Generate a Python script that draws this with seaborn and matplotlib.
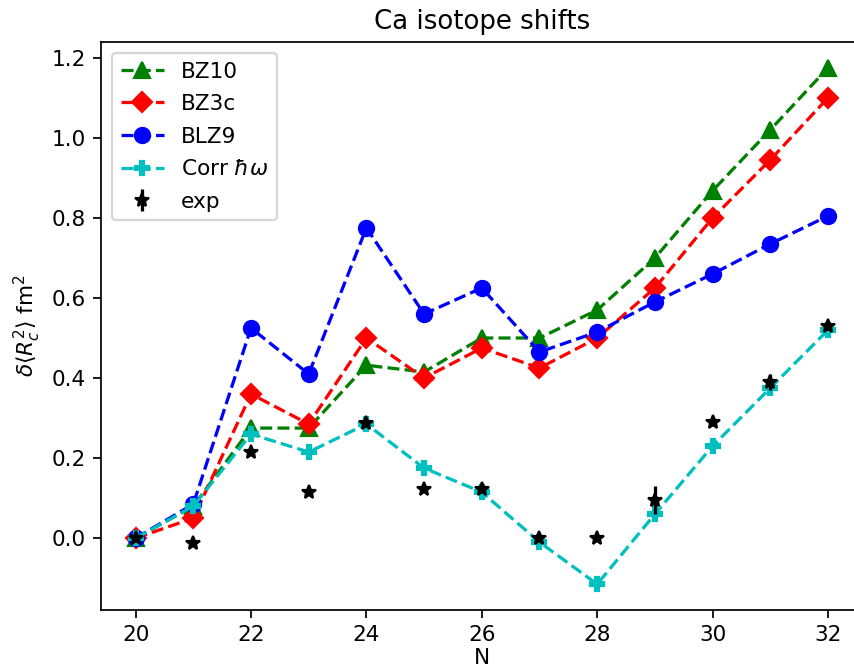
import numpy as np
import pandas as pd
import matplotlib
matplotlib.use("Agg")
import matplotlib.pyplot as plt
import seaborn as sns

N = [20, 21, 22, 23, 24, 25, 26, 27, 28, 29, 30, 31, 32]
bz10 = [0.0, 0.08, 0.275, 0.275, 0.432, 0.415, 0.50, 0.50, 0.57, 0.70, 0.868, 1.02, 1.175]
bz3c = [0.0, 0.05, 0.36, 0.285, 0.50, 0.40, 0.475, 0.425, 0.50, 0.625, 0.80, 0.945, 1.10]
blz9 = [0.0, 0.085, 0.525, 0.41, 0.775, 0.56, 0.625, 0.465, 0.515, 0.59, 0.66, 0.735, 0.805]
corr = [0.0, 0.08, 0.26, 0.215, 0.285, 0.175, 0.115, -0.01, -0.115, 0.06, 0.23, 0.375, 0.52]
exp_vals = [0.0, -0.012, 0.216, 0.116, 0.287, 0.124, 0.122, 0.0, 0.0, 0.095, 0.29, 0.39, 0.53]
exp_err = [0.002, 0.005, 0.005, 0.005, 0.008, 0.005, 0.005, 0.005, 0.005, 0.035, 0.01, 0.02, 0.01]

series = [
    ("BZ10", bz10, "g", "^", 7),
    ("BZ3c", bz3c, "r", "D", 6.5),
    ("BLZ9", blz9, "b", "o", 7),
    (r"Corr $\hbar\omega$", corr, "c", "P", 6.5),
]

dpi = 156
fig = plt.figure(figsize=(854 / dpi, 672 / dpi), dpi=dpi)
ax = fig.add_axes([101 / 854, 62 / 672, (862.6 - 101) / 854, (610 - 42) / 672])

for label, vals, color, marker, ms in series:
    df = pd.DataFrame({"N": N, "v": vals})
    sns.lineplot(data=df, x="N", y="v", ax=ax, color=color, marker=marker,
                 linestyle="--", markersize=ms,
                 markeredgecolor=color, markeredgewidth=1, label=label,
                 lw=1.5)

ax.errorbar(N, exp_vals, yerr=exp_err, fmt="k*", markersize=6.5, label="exp")

ax.set_title("Ca isotope shifts")
ax.set_xlabel("N", labelpad=1.5)
ax.set_ylabel(r"$\delta\langle R_c^2\rangle$ fm$^2$")
ax.legend(loc="upper left", labelspacing=0.58)

fig.savefig("out.png", dpi=dpi)
